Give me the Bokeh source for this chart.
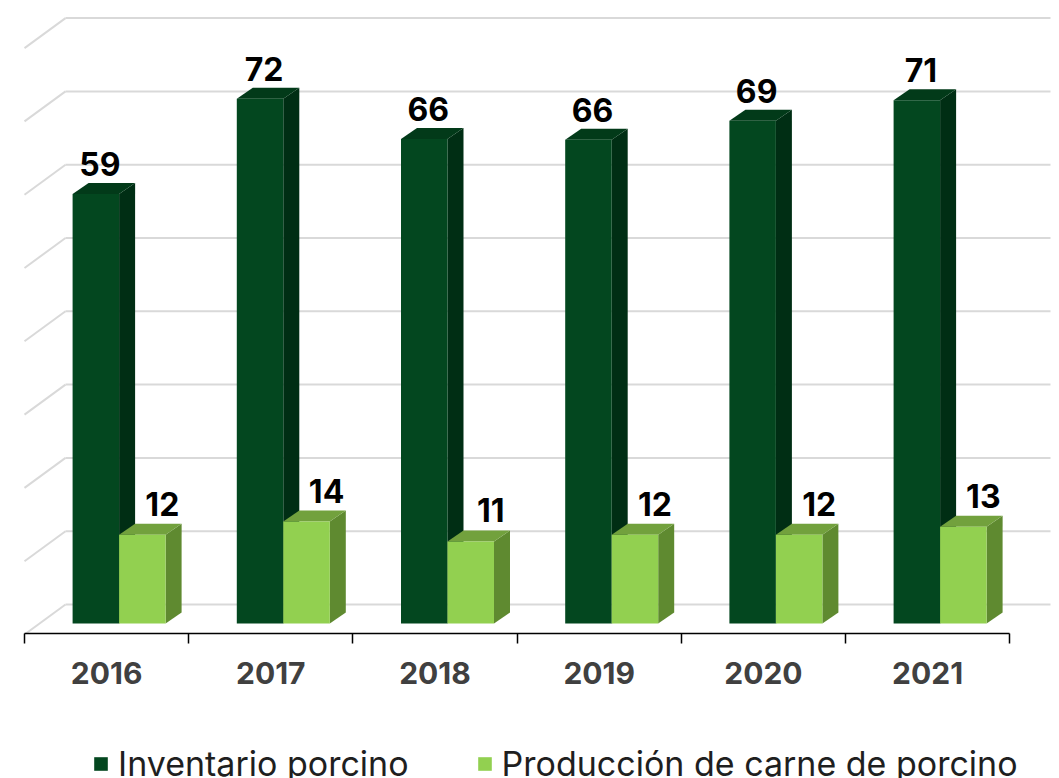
from bokeh.plotting import figure
from bokeh.models import Range1d, FixedTicker, Legend, LegendItem
from bokeh.layouts import column
from bokeh.core.properties import value
from bokeh.embed import file_html
from bokeh.resources import INLINE

# ---------------- data ----------------
years = [2016, 2017, 2018, 2019, 2020, 2021]
year_labels = ["2016", "2017", "2018", "2019", "2020", "2021"]
inventario = [58.6, 71.6, 66.1, 66.0, 68.6, 71.4]
produccion = [12.1, 13.9, 11.2, 12.1, 12.1, 13.2]
series_names = ["Inventario porcino", "Producción de carne de porcino"]
grid_values = [0, 10, 20, 30, 40, 50, 60, 70, 80]

# ---------------- style / layout ----------------
DARK_FRONT, DARK_TOP, DARK_SIDE = "#03471f", "#023a19", "#002e14"
LIGHT_FRONT, LIGHT_TOP, LIGHT_SIDE = "#92d050", "#72a13d", "#5f8a30"
GRID = "#d9d9d9"

W, H1, H2 = 1059, 712, 66
PX = 164.2          # px per category
PY = 7.33           # px per value unit
X0 = years[0] - 0.5 # left boundary of categories
FRAME_H = 633

xr = Range1d(X0 - 24 / PX, X0 + (W - 24) / PX)
yr = Range1d(-10 / PY, 623 / PY)

p = figure(width=W, height=H1, x_range=xr, y_range=yr, output_backend="svg",
           toolbar_location=None, y_axis_location=None,
           min_border_left=0, min_border_right=0, min_border_top=0,
           min_border_bottom=H1 - FRAME_H)
p.grid.visible = False
p.outline_line_color = None
p.background_fill_color = "white"
p.border_fill_color = "white"

# depth offsets
DX, DY = 16 / PX, 11 / PY
BACK = 19 / PY
wall_l = X0 + 41 / PX
wall_r = X0 + 1026 / PX

# back wall gridlines + left wall diagonals
p.segment(x0=[wall_l] * len(grid_values), x1=[wall_r] * len(grid_values),
          y0=[g + BACK for g in grid_values], y1=[g + BACK for g in grid_values],
          line_color=GRID, line_width=2)
p.segment(x0=[wall_l] * len(grid_values), x1=[X0] * len(grid_values),
          y0=[g + BACK for g in grid_values], y1=[g + BACK - 30 / PY for g in grid_values],
          line_color=GRID, line_width=2)


def bar3d(lefts, rights, tops, front, top_c, side):
    p.patches(xs=[[r, r + DX, r + DX, r] for r in rights],
              ys=[[0, DY, t + DY, t] for t in tops],
              fill_color=side, line_color=None)
    p.patches(xs=[[l, r, r + DX, l + DX] for l, r in zip(lefts, rights)],
              ys=[[t, t, t + DY, t + DY] for t in tops],
              fill_color=top_c, line_color=None)
    return p.quad(left=lefts, right=rights, bottom=[0] * len(tops), top=tops,
                  fill_color=front, line_color=None)


d_l = [c - 34 / PX for c in years]
d_r = [c + 12.5 / PX for c in years]
l_l = d_r
l_r = [c + 59 / PX for c in years]

bar3d(d_l, d_r, inventario, DARK_FRONT, DARK_TOP, DARK_SIDE)
bar3d(l_l, l_r, produccion, LIGHT_FRONT, LIGHT_TOP, LIGHT_SIDE)

# data labels
LABEL_LIFT = 30
p.text(x=[(l + r) / 2 + 4 / PX for l, r in zip(d_l, d_r)],
       y=[v + LABEL_LIFT / PY for v in inventario],
       text=[f"{v:.0f}" for v in inventario],
       text_align="center", text_baseline="alphabetic",
       text_font=value("Inter"), text_font_style="bold",
       text_font_size="32px", text_color="black")
p.text(x=[(l + r) / 2 + 20 / PX for l, r in zip(l_l, l_r)],
       y=[v + (LABEL_LIFT + 1) / PY for v in produccion],
       text=[f"{v:.0f}" for v in produccion],
       text_align="center", text_baseline="alphabetic",
       text_font=value("Inter"), text_font_style="bold",
       text_font_size="32px", text_color="black")

# x axis with boundary ticks
ax = p.xaxis[0]
ax.ticker = FixedTicker(ticks=years, minor_ticks=[X0 + k for k in range(len(years) + 1)])
ax.major_label_overrides = {y: s for y, s in zip(years, year_labels)}
ax.bounds = (X0, X0 + len(years))
ax.axis_line_color = "black"
ax.axis_line_width = 1.5
ax.major_tick_out = 0
ax.major_tick_in = 0
ax.minor_tick_in = 0
ax.minor_tick_out = 10
ax.minor_tick_line_color = "black"
ax.minor_tick_line_width = 1.5
ax.major_label_standoff = 18
ax.major_label_text_font = "Inter"
ax.major_label_text_font_style = "bold"
ax.major_label_text_font_size = "30px"
ax.major_label_text_color = "#404040"

# ---------------- legend figure ----------------
p2 = figure(width=W, height=H2, x_range=Range1d(0, W), y_range=Range1d(0, H2),
            output_backend="svg", toolbar_location=None,
            x_axis_location=None, y_axis_location=None,
            min_border=0)
p2.grid.visible = False
p2.outline_line_color = None
p2.background_fill_color = "white"
p2.border_fill_color = "white"
# legend proxies kept outside the visible range
r1 = p2.quad(left=[-50], right=[-40], bottom=[-50], top=[-40], fill_color=DARK_FRONT, line_color=None)
r2 = p2.quad(left=[-50], right=[-40], bottom=[-50], top=[-40], fill_color=LIGHT_FRONT, line_color=None)
leg = Legend(items=[LegendItem(label=series_names[0], renderers=[r1]),
                    LegendItem(label=series_names[1], renderers=[r2])],
             location=(92, -6), orientation="horizontal",
             glyph_width=17, glyph_height=17, label_standoff=9, spacing=67,
             padding=0, margin=0, background_fill_alpha=0, border_line_alpha=0,
             label_text_font="Inter", label_text_font_size="34px",
             label_text_color="#1f1f1f")
p2.add_layout(leg, "center")

layout = column(p, p2, spacing=0)
open("out.html", "w").write(file_html(layout, INLINE))
